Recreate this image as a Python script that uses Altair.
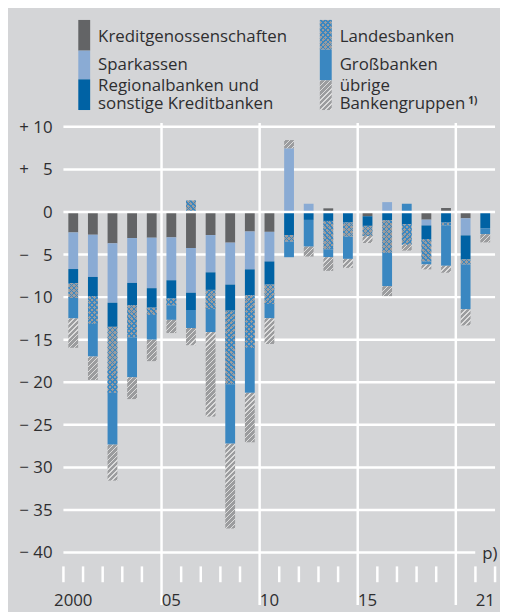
import math
import altair as alt

# ---------------- data ----------------
years = list(range(2000, 2022))
series = ["Kreditgenossenschaften", "Sparkassen",
          "Regionalbanken und sonstige Kreditbanken",
          "Landesbanken", "Großbanken", "übrige Bankengruppen"]

kreditgenossenschaften = [-2.4, -2.67, -3.68, -3.06, -3.02, -2.98, -4.22, -2.71, -3.6, -2.29, -2.33,
                          0, 0, 0.43, 0, -0.5, 0, 0, -0.9, 0.47, -0.74, 0]
sparkassen = [-4.3, -4.96, -6.98, -5.27, -5.93, -5.04, -5.28, -4.38, -4.93, -4.45, -3.48,
              7.48, 0.97, 0, 0, 0, 1.16, 0, -0.68, 0, -2.01, 0]
regionalbanken = [-1.65, -2.25, -2.83, -2.6, -2.29, -2.14, -2.01, -2.06, -3.06, -3.03, -2.72,
                  -2.71, -0.93, -1.05, -1.24, -1.13, -0.97, -1.43, -1.6, -1.24, -2.83, -1.9]
landesbanken = [-1.75, -3.26, -7.75, -3.8, -0.85, -0.81, 1.35, -2.25, -8.64, -6.2, -2.28,
                -0.78, 0, -3.33, -1.67, -1.2, -3.83, -2.41, -2.63, -0.34, -0.58, 0]
grossbanken = [-2.4, -3.84, -6.09, -4.69, -2.91, -1.7, -2.13, -2.7, -6.98, -5.27, -1.67,
               -1.82, -3.14, -0.93, -2.6, 0, -3.92, 0.97, -0.35, -4.74, -5.27, -0.7]
uebrige = [-3.45, -2.75, -4.22, -2.56, -2.52, -1.55, -2.02, -9.93, -9.96, -5.81, -3.02,
           0.97, -1.16, -1.6, -1.05, -0.81, -1.16, -0.69, -0.58, -0.81, -1.9, -0.97]

tick_years = [2000, 2005, 2010, 2015, 2021]
tick_labels = ["2000", "05", "10", "15", "21"]
y_ticks = [10, 5, 0, -5, -10, -15, -20, -25, -30, -35, -40]
separators = [2004.5, 2009.5, 2014.5, 2019.5]

legend_left = [["Kreditgenossenschaften"], ["Sparkassen"], ["Regionalbanken und", "sonstige Kreditbanken"]]
legend_right = [["Landesbanken"], ["Großbanken"], ["übrige", "Bankengruppen"]]

# ---------------- layout / style ----------------
W, H = 436, 488
PX = 8.6                 # px per unit
ZERO_PX = 91             # zero line from top of plot
Y_MAX = ZERO_PX / PX
Y_MIN = -(H - ZERO_PX) / PX
X_MIN, X_MAX = 1999.5, 2021.5
PX_X = W / (X_MAX - X_MIN)
HALF = 0.25
BAR_W = 2 * HALF * PX_X

BG = "#d4d5d7"
TEXT = "#2e2e30"
FONT = "Open Sans"
FS = 17
C_KG = "#636466"
C_SK = "#8aabd4"
C_RB = "#0062a4"
C_GB = "#3a87c1"
C_GRAY = "#9b9c9e"
C_HLINE = "#dcdcdc"


def stripes(w, h, line, bg, diag, period=5.0, frac=0.3):
    L = w + h
    s = (w * w + h * h) / L
    if diag == "/":
        x1, y1, x2, y2 = 0.0, 0.0, w / s, h / s
    else:
        x1, y1, x2, y2 = 0.0, 1.0, w / s, 1.0 - h / s
    stops = []
    n = int(math.ceil(L / period))
    for i in range(n):
        a = min(i * period / L, 1.0)
        b = min((i * period + frac * period) / L, 1.0)
        c = min((i + 1) * period / L, 1.0)
        stops += [{"offset": round(a, 5), "color": line}, {"offset": round(b, 5), "color": line},
                  {"offset": round(b, 5), "color": bg}, {"offset": round(c, 5), "color": bg}]
    return {"gradient": "linear", "x1": round(x1, 5), "y1": round(y1, 5),
            "x2": round(x2, 5), "y2": round(y2, 5), "stops": stops}


def paint(k, w, h):
    if k == 0:
        return C_KG
    if k == 1:
        return C_SK
    if k == 2:
        return C_RB
    if k == 3:
        return stripes(w, h, C_GB, C_GRAY, "/")
    if k == 4:
        return C_GB
    return stripes(w, h, C_HLINE, C_GRAY, "/")


def overlay(w, h):
    return stripes(w, h, C_GB, "rgba(0,0,0,0)", "\\")


values = [kreditgenossenschaften, sparkassen, regionalbanken, landesbanken, grossbanken, uebrige]
records = []
for i, yr in enumerate(years):
    for k, name in enumerate(series):
        v = values[k][i]
        if v == 0:
            continue
        h = abs(v) * PX
        rec = {"year": yr, "series": name, "order": k, "value": v, "paint": paint(k, BAR_W, h)}
        if k == 3:
            rec["paint2"] = overlay(BAR_W, h)
        records.append(rec)

xs = alt.Scale(domain=[X_MIN, X_MAX], nice=False, zero=False)
ys = alt.Scale(domain=[Y_MIN, Y_MAX], nice=False, zero=False)


def ylabel(v):
    if v == 0:
        return "0"
    sign = "+ " if v > 0 else "\u2212 "
    pad = "\u2007" if abs(v) < 10 else ""
    return sign + pad + str(abs(v))


# gridlines
grid_rows = [{"gy": v, "gx0": X_MIN, "gx1": (2020.49 if v == -40 else X_MAX)} for v in y_ticks if v != 0]
grid = alt.Chart(alt.Data(values=grid_rows)).mark_rule(color="white", strokeWidth=2.5).encode(
    x=alt.X("gx0:Q", scale=xs, axis=None), x2="gx1:Q",
    y=alt.Y("gy:Q", scale=ys, axis=None))

seps = alt.Chart(alt.Data(values=[{"sx": s} for s in separators])).mark_rule(
    color="white", strokeWidth=2.5).encode(
    x=alt.X("sx:Q", scale=xs, axis=None), y=alt.value(1), y2=alt.value(H))

bounds = [X_MIN + j for j in range(23)]
ticks = alt.Chart(alt.Data(values=[{"tx": b} for b in bounds if b not in separators])).mark_rule(
    color="white", strokeWidth=2.5).encode(
    x=alt.X("tx:Q", scale=xs, axis=None), y=alt.value(449), y2=alt.value(465))

# axis labels as text marks through the scales
ylab = alt.Chart(alt.Data(values=[{"v": v, "t": ylabel(v)} for v in y_ticks])).mark_text(
    align="right", baseline="middle", font=FONT, fontSize=FS, color=TEXT, dy=1).encode(
    y=alt.Y("v:Q", scale=ys, axis=None), x=alt.value(-11), text="t:N")
xlab = alt.Chart(alt.Data(values=[{"yr": y, "t": t} for y, t in zip(tick_years, tick_labels)])).mark_text(
    align="center", baseline="alphabetic", font=FONT, fontSize=FS, color=TEXT).encode(
    x=alt.X("yr:Q", scale=xs, axis=None), y=alt.value(H + 1), text="t:N")

base = alt.Chart(alt.Data(values=records)).transform_stack(
    stack="value", groupby=["year"], as_=["v0", "v1"],
    sort=[alt.SortField("order", order="ascending")], offset="zero"
).transform_calculate(xa=f"datum.year - {HALF}", xb=f"datum.year + {HALF}")

bars = base.mark_bar(aria=False).encode(
    x=alt.X("xa:Q", scale=xs, axis=None), x2="xb:Q",
    y=alt.Y("v0:Q", scale=ys, axis=None), y2="v1:Q",
    fill=alt.Fill("paint:N", scale=None))

lb_over = base.transform_filter(alt.datum.order == 3).mark_bar(aria=False).encode(
    x=alt.X("xa:Q", scale=xs, axis=None), x2="xb:Q",
    y=alt.Y("v0:Q", scale=ys, axis=None), y2="v1:Q",
    fill=alt.Fill("paint2:N", scale=None))

zero = alt.Chart(alt.Data(values=[{"z": 0}])).mark_rule(color="white", strokeWidth=2.7).encode(
    y=alt.Y("z:Q", scale=ys, axis=None), x=alt.value(0), x2=alt.value(W))

# ---------------- legend ----------------
sw_rows = []
sw_y = [(-103, -72), (-72, -43), (-43, -12)]
sw_y_r = [(-103, -73), (-73, -42), (-42, -12)]
for k in range(3):
    y0, y1 = sw_y[k]
    sw_rows.append({"x": 15, "x2": 27, "y": y0, "y2": y1, "paint": paint(k, 12, y1 - y0)})
for j, k in enumerate([3, 4, 5]):
    y0, y1 = sw_y_r[j]
    sw_rows.append({"x": 259, "x2": 271, "y": y0, "y2": y1, "paint": paint(k, 12, y1 - y0)})
swatch = alt.Chart(alt.Data(values=sw_rows)).mark_rect(aria=False).encode(
    x=alt.X("x:Q", scale=None, axis=None), x2="x2:Q",
    y=alt.Y("y:Q", scale=None, axis=None), y2="y2:Q",
    fill=alt.Fill("paint:N", scale=None))
sw_over = alt.Chart(alt.Data(values=[{"x": 259, "x2": 271, "y": -103, "y2": -73,
                                      "paint": overlay(12, 30)}])).mark_rect(aria=False).encode(
    x=alt.X("x:Q", scale=None, axis=None), x2="x2:Q",
    y=alt.Y("y:Q", scale=None, axis=None), y2="y2:Q",
    fill=alt.Fill("paint:N", scale=None))

txt_rows = []
base_lines = [[-81], [-52], [-31, -13]]
for col_x, items in [(35, legend_left), (279, legend_right)]:
    for lines, ys_ in zip(items, base_lines):
        for line, yy in zip(lines, ys_):
            txt_rows.append({"x": col_x, "y": yy, "t": line})
txt_rows.append({"x": 423, "y": 442, "t": "p)"})
legend_text = alt.Chart(alt.Data(values=txt_rows)).mark_text(
    align="left", baseline="alphabetic", font=FONT, fontSize=FS, color=TEXT).encode(
    x=alt.X("x:Q", scale=None, axis=None), y=alt.Y("y:Q", scale=None, axis=None), text="t:N")
sup = alt.Chart(alt.Data(values=[{"x": 409, "y": -18, "t": "1)"}])).mark_text(
    align="left", baseline="alphabetic", font=FONT, fontSize=10, fontWeight="bold", color=TEXT).encode(
    x=alt.X("x:Q", scale=None, axis=None), y=alt.Y("y:Q", scale=None, axis=None), text="t:N")

chart = alt.layer(grid, seps, ticks, bars, lb_over, zero, ylab, xlab,
                  swatch, sw_over, legend_text, sup).properties(
    width=W, height=H, background=BG,
    padding={"left": 56, "top": 112, "right": 5, "bottom": 4},
    autosize=alt.AutoSizeParams(type="none"),
).configure_view(strokeWidth=0)

chart.save("out.html", embed_options={"renderer": "svg", "actions": False})
